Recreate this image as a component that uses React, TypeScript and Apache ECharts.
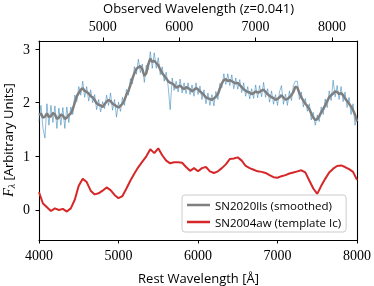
import React, { useEffect, useRef } from "react";
import * as echarts from "echarts";

// Rest-frame wavelength sampling (Å)
const restStart = 4000;
const step = 25;
const redshift = 0.041;

// SN2020lls smoothed spectrum (25 Å sampling, 4000–8000 Å)
const smoothFlux = [
  1.77, 1.8, 1.72, 1.74, 1.8, 1.73, 1.75, 1.81, 1.78, 1.7,
  1.72, 1.78, 1.76, 1.7, 1.72, 1.77, 1.8, 1.88, 2.0, 2.12,
  2.18, 2.24, 2.27, 2.22, 2.2, 2.17, 2.12, 2.1, 2.05, 1.99,
  1.96, 1.95, 1.92, 1.97, 2.02, 2.05, 2.03, 1.98, 1.96, 1.93,
  1.91, 1.94, 1.98, 2.05, 2.15, 2.22, 2.33, 2.45, 2.55, 2.63,
  2.66, 2.68, 2.62, 2.5, 2.55, 2.72, 2.82, 2.76, 2.78, 2.74,
  2.7, 2.62, 2.55, 2.5, 2.45, 2.4, 2.37, 2.36, 2.33, 2.28,
  2.3, 2.32, 2.28, 2.25, 2.29, 2.27, 2.25, 2.21, 2.24, 2.27,
  2.25, 2.21, 2.18, 2.14, 2.1, 2.08, 2.07, 2.05, 2.08, 2.11,
  2.16, 2.26, 2.36, 2.42, 2.44, 2.4, 2.42, 2.4, 2.38, 2.36,
  2.37, 2.33, 2.29, 2.25, 2.22, 2.2, 2.19, 2.16, 2.18, 2.21,
  2.19, 2.2, 2.23, 2.24, 2.2, 2.16, 2.13, 2.1, 2.09, 2.05,
  2.07, 2.1, 2.14, 2.09, 2.06, 2.07, 2.1, 2.14, 2.2, 2.3,
  2.28, 2.18, 2.1, 2.04, 1.98, 1.94, 1.88, 1.8, 1.72, 1.68,
  1.69, 1.75, 1.82, 1.88, 1.95, 2.03, 2.1, 2.14, 2.17, 2.21,
  2.2, 2.16, 2.18, 2.14, 2.08, 2.03, 1.98, 1.93, 1.86, 1.78,
  1.65,
];

// SN2020lls raw spectrum (25 Å sampling, 4000–8000 Å)
const rawFlux = [
  1.65, 1.95, 1.52, 1.34, 1.98, 1.58, 1.95, 1.63, 1.94, 1.52,
  1.9, 1.58, 1.91, 1.52, 1.92, 1.63, 1.92, 1.78, 2.14, 2.02,
  2.3, 2.14, 2.4, 2.1, 2.3, 2.03, 2.24, 2.0, 2.15, 1.87,
  2.06, 1.83, 2.02, 1.89, 2.14, 1.95, 2.18, 1.86, 2.06, 1.73,
  2.01, 1.84, 2.1, 1.95, 2.25, 2.14, 2.45, 2.35, 2.67, 2.53,
  2.81, 2.56, 2.72, 2.38, 2.7, 2.62, 2.95, 2.64, 2.93, 2.64,
  2.84, 2.52, 2.67, 2.4, 2.57, 2.3, 1.87, 2.46, 2.23, 2.4,
  2.2, 2.44, 2.18, 2.37, 2.17, 2.37, 2.15, 2.33, 2.12, 2.37,
  2.15, 2.31, 2.06, 2.24, 1.98, 2.18, 1.95, 2.15, 1.94, 2.21,
  2.06, 2.36, 2.28, 2.54, 2.34, 2.54, 2.32, 2.52, 2.26, 2.46,
  2.25, 2.43, 2.19, 2.37, 2.12, 2.3, 2.07, 2.26, 2.08, 2.33,
  2.09, 2.32, 2.11, 2.38, 2.1, 2.26, 2.01, 2.22, 1.97, 2.15,
  1.95, 2.2, 2.32, 1.97, 2.16, 1.95, 2.22, 2.04, 2.32, 2.4,
  2.4, 2.06, 2.2, 1.92, 2.08, 1.84, 1.98, 1.68, 1.82, 1.58,
  1.77, 1.65, 1.92, 1.78, 2.07, 1.91, 2.22, 2.04, 2.42, 2.11,
  2.32, 2.06, 2.3, 2.02, 2.2, 1.91, 2.1, 1.78, 1.98, 1.58,
  1.72,
];

// SN2004aw template (50 Å sampling, 4000–8000 Å)
const templateStep = 50;
const templateFlux = [
  0.33, 0.12, 0.05, -0.02, 0.03, 0.0, 0.02, -0.03, 0.03, 0.19,
  0.45, 0.58, 0.52, 0.36, 0.29, 0.31, 0.36, 0.42, 0.37, 0.28,
  0.22, 0.26, 0.4, 0.55, 0.68, 0.8, 0.9, 1.0, 1.13, 1.06,
  1.15, 1.02, 0.92, 0.87, 0.89, 0.89, 0.88, 0.8, 0.73, 0.78,
  0.72, 0.78, 0.8, 0.72, 0.69, 0.72, 0.78, 0.85, 0.95, 0.96,
  0.98, 0.92, 0.82, 0.78, 0.75, 0.72, 0.71, 0.69, 0.65, 0.61,
  0.6, 0.63, 0.65, 0.68, 0.7, 0.72, 0.74, 0.7, 0.55, 0.4,
  0.3, 0.45, 0.58, 0.7, 0.77, 0.82, 0.83, 0.8, 0.76, 0.71,
  0.56,
];

const bottomTicks = [4000, 5000, 6000, 7000, 8000];
const topTicks = [5000, 6000, 7000, 8000];
const yTicks = [0, 1, 2, 3];
const smoothName = "SN2020lls (smoothed)";
const templateName = "SN2004aw (template Ic)";

const SERIF = "'Liberation Serif', 'DejaVu Serif', serif";
const SANS = "'Open Sans', 'DejaVu Sans', sans-serif";

export default function App() {
  const ref = useRef<HTMLDivElement>(null);
  useEffect(() => {
    if (!ref.current) return;
    const chart = echarts.init(ref.current, undefined, { renderer: "svg" });
    const xMin = bottomTicks[0];
    const xMax = bottomTicks[bottomTicks.length - 1];
    const yMin = -0.56;
    const yMax = 3.15;
    const axisLine = { show: true, onZero: false, lineStyle: { color: "#000", width: 1.1 } };
    const tickStyle = { show: true, inside: false, length: 3.5, lineStyle: { color: "#000", width: 1 } };
    const labelStyle = {
      color: "#000",
      fontFamily: SERIF,
      fontSize: 14,
      formatter: (v: number) => String(v),
    };

    chart.setOption({
      animation: false,
      grid: { left: 39, right: 15, top: 41, bottom: 46 },
      xAxis: [
        {
          type: "value",
          position: "bottom",
          min: xMin,
          max: xMax,
          axisLine,
          axisTick: { ...tickStyle, customValues: bottomTicks },
          axisLabel: { ...labelStyle, margin: 8, customValues: bottomTicks },
          splitLine: { show: false },
        },
        {
          type: "value",
          position: "top",
          min: xMin * (1 + redshift),
          max: xMax * (1 + redshift),
          axisLine,
          axisTick: { ...tickStyle, customValues: topTicks },
          axisLabel: { ...labelStyle, margin: 8, customValues: topTicks },
          splitLine: { show: false },
        },
      ],
      yAxis: [
        {
          type: "value",
          position: "left",
          min: yMin,
          max: yMax,
          axisLine,
          axisTick: { ...tickStyle, customValues: yTicks },
          axisLabel: { ...labelStyle, margin: 9, customValues: yTicks },
          splitLine: { show: false },
        },
        {
          type: "value",
          position: "right",
          min: yMin,
          max: yMax,
          axisLine,
          axisTick: { show: false },
          axisLabel: { show: false },
          splitLine: { show: false },
        },
      ],
      legend: {
        data: [smoothName, templateName],
        orient: "vertical",
        left: 182,
        top: 195,
        padding: [3, 5, 3, 5],
        itemGap: 3,
        itemWidth: 23,
        itemHeight: 2.5,
        icon: "rect",
        backgroundColor: "rgba(255,255,255,0.8)",
        borderColor: "#cccccc",
        borderWidth: 1,
        borderRadius: 3,
        textStyle: { fontFamily: SANS, fontSize: 11.5, color: "#000", lineHeight: 14 },
      },
      series: [
        {
          name: "raw",
          type: "line",
          data: rawFlux.map((v, i) => [restStart + i * step, v]),
          showSymbol: false,
          lineStyle: { color: "#1f77b4", width: 1, opacity: 0.5 },
          itemStyle: { color: "#1f77b4" },
          z: 1,
          silent: true,
        },
        {
          name: smoothName,
          type: "line",
          data: smoothFlux.map((v, i) => [restStart + i * step, v]),
          showSymbol: false,
          lineStyle: { color: "#7f7f7f", width: 2.5 },
          itemStyle: { color: "#7f7f7f" },
          z: 2,
        },
        {
          name: templateName,
          type: "line",
          data: templateFlux.map((v, i) => [restStart + i * templateStep, v]),
          showSymbol: false,
          lineStyle: { color: "#d62728", width: 2 },
          itemStyle: { color: "#d62728" },
          z: 3,
        },
      ],
      graphic: [
        {
          type: "text",
          x: 198.5,
          y: 8,
          style: {
            text: "Observed Wavelength (z=0.041)",
            align: "center",
            verticalAlign: "middle",
            fontFamily: SANS,
            fontSize: 13,
            fill: "#000",
          },
        },
        {
          type: "text",
          x: 198.5,
          y: 278,
          style: {
            text: "Rest Wavelength [Å]",
            align: "center",
            verticalAlign: "middle",
            fontFamily: SANS,
            fontSize: 13,
            fill: "#000",
          },
        },
        {
          type: "text",
          x: 8,
          y: 140,
          rotation: Math.PI / 2,
          style: {
            text: "{f|F}{s|λ}{t| [Arbitrary Units]}",
            align: "center",
            verticalAlign: "middle",
            fill: "#000",
            rich: {
              f: { fontFamily: SERIF, fontStyle: "italic", fontSize: 14, fill: "#000" },
              s: { fontFamily: SERIF, fontStyle: "italic", fontSize: 10, fill: "#000", padding: [6, 0, 0, 0] },
              t: { fontFamily: SANS, fontSize: 13, fill: "#000" },
            },
          },
        },
      ],
    });
    return () => chart.dispose();
  }, []);
  return (
    <div
      ref={ref}
      style={{ position: "fixed", left: 0, top: 0, width: 374, height: 286 }}
    />
  );
}
